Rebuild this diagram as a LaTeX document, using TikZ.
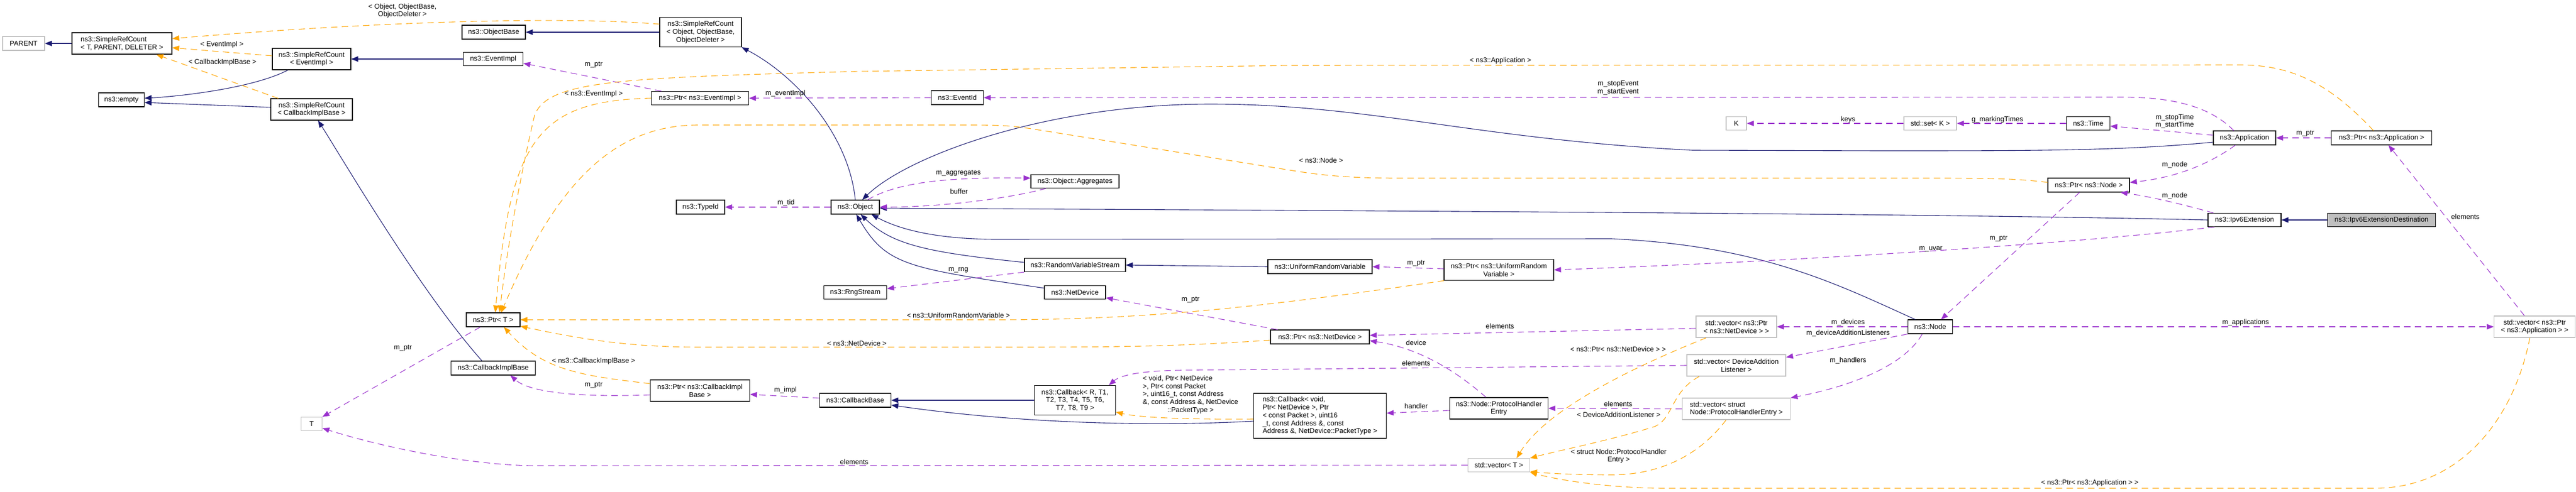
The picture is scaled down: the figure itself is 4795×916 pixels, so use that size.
\documentclass[tikz,border=0pt]{standalone}
\usepackage{fontspec}
\setmainfont{Liberation Sans}
\usetikzlibrary{arrows.meta}

\definecolor{inhblue}{HTML}{191970}
\definecolor{usepurple}{HTML}{9A32CD}
\definecolor{tplorange}{HTML}{FFA500}
\definecolor{extgray}{HTML}{BFBFBF}

\begin{document}
\begin{tikzpicture}[x=1pt, y=-1pt, font=\fontsize{13}{14.7}\selectfont,
  klass/.style={draw=black, line width=1.2pt, fill=white, inner sep=0pt, align=center, minimum height=26pt},
  extklass/.style={klass, draw=extgray},
  focus/.style={klass, fill=extgray},
  inh/.style={draw=inhblue, line width=1.1pt, -{Triangle[length=13pt,width=10pt]}},
  usg/.style={draw=usepurple, line width=1.1pt, dash pattern=on 12pt off 8pt, -{Triangle[length=13pt,width=10pt]}},
  tpl/.style={usg, draw=tplorange},
  lbl/.style={inner sep=0pt, align=center}]
  \useasboundingbox (0,0) rectangle (4795,916);

  % classes
  \node[extklass, minimum width=78pt] (parent) at (44,81) {PARENT};
  \node[klass, minimum width=186pt, minimum height=40pt, align=left] (srcT) at (227,81) {ns3::SimpleRefCount\\< T, PARENT, DELETER >};
  \node[klass, minimum width=85pt] (empty) at (226,186) {ns3::empty};
  \node[klass, minimum width=146pt, minimum height=40pt] (srcEv) at (580,110) {ns3::SimpleRefCount\\< EventImpl >};
  \node[klass, minimum width=152pt, minimum height=40pt] (srcCb) at (580,204) {ns3::SimpleRefCount\\< CallbackImplBase >};
  \node[extklass, minimum width=39pt, minimum height=25pt] (T) at (580,790) {T};
  \node[klass, minimum width=118pt] (objBase) at (919,60) {ns3::ObjectBase};
  \node[klass, minimum width=111pt, minimum height=25pt] (evImpl) at (918,110) {ns3::EventImpl};
  \node[klass, minimum width=100pt] (ptrT) at (918,596) {ns3::Ptr< T >};
  \node[klass, minimum width=157pt] (cbImpl) at (918,686) {ns3::CallbackImplBase};
  \node[klass, minimum width=152pt, minimum height=55pt] (srcObj) at (1304,60) {ns3::SimpleRefCount\\< Object, ObjectBase,\\ObjectDeleter >};
  \node[klass, minimum width=181pt, minimum height=25pt] (ptrEv) at (1303,183) {ns3::Ptr< ns3::EventImpl >};
  \node[klass, minimum width=90pt] (typeId) at (1304,386) {ns3::TypeId};
  \node[klass, minimum width=185pt, minimum height=40pt] (ptrCb) at (1303,728) {ns3::Ptr< ns3::CallbackImpl\\Base >};
  \node[klass, minimum width=90pt] (object) at (1592,386) {ns3::Object};
  \node[klass, minimum width=117pt, minimum height=25pt] (rng) at (1592,545) {ns3::RngStream};
  \node[klass, minimum width=133pt] (cbBase) at (1592,746) {ns3::CallbackBase};
  \node[klass, minimum width=97pt] (eventId) at (1782,182) {ns3::EventId};
  \node[klass, minimum width=164pt, minimum height=25pt] (aggr) at (2001,338) {ns3::Object::Aggregates};
  \node[klass, minimum width=188pt, minimum height=25pt] (rvs) at (2001,494) {ns3::RandomVariableStream};
  \node[klass, minimum width=114pt, minimum height=25pt] (netDev) at (2001,545) {ns3::NetDevice};
  \node[klass, minimum width=151pt, minimum height=55pt] (cbGen) at (2001,746) {ns3::Callback< R, T1,\\T2, T3, T4, T5, T6,\\T7, T8, T9 >};
  \node[klass, minimum width=194pt] (urv) at (2457,497) {ns3::UniformRandomVariable};
  \node[klass, minimum width=184pt] (ptrNd) at (2457,628) {ns3::Ptr< ns3::NetDevice >};
  \node[klass, minimum width=247pt, minimum height=84pt, align=left] (cbVoid) at (2457,775) {ns3::Callback< void,\\Ptr< NetDevice >, Ptr\\< const Packet >, uint16\\\_t, const Address \&, const\\Address \&, NetDevice::PacketType >};
  \node[klass, minimum width=204pt, minimum height=39pt] (ptrUrv) at (2790,503) {ns3::Ptr< ns3::UniformRandom\\Variable >};
  \node[klass, minimum width=183pt, minimum height=40pt] (phe) at (2790,761) {ns3::Node::ProtocolHandler\\Entry};
  \node[extklass, minimum width=115pt, minimum height=25pt] (vecT) at (2790,867) {std::vector< T >};
  \node[extklass, minimum width=38pt, minimum height=25pt] (K) at (3232,230) {K};
  \node[extklass, minimum width=150pt, minimum height=40pt] (vecNd) at (3232,609) {std::vector< ns3::Ptr\\< ns3::NetDevice > >};
  \node[extklass, minimum width=184pt, minimum height=40pt] (vecDal) at (3232,681) {std::vector< DeviceAddition\\Listener >};
  \node[extklass, minimum width=201pt, minimum height=40pt, align=left] (vecPhe) at (3232,762) {std::vector< struct\\Node::ProtocolHandlerEntry >};
  \node[extklass, minimum width=98pt, minimum height=25pt] (setK) at (3593,230) {std::set< K >};
  \node[klass, minimum width=83pt] (nsNode) at (3593,609) {ns3::Node};
  \node[klass, minimum width=81pt, minimum height=25pt] (time) at (3887,230) {ns3::Time};
  \node[klass, minimum width=152pt] (ptrNode) at (3888,345) {ns3::Ptr< ns3::Node >};
  \node[klass, minimum width=116pt] (app) at (4178,257) {ns3::Application};
  \node[klass, minimum width=136pt, minimum height=25pt] (ipv6) at (4178,410) {ns3::Ipv6Extension};
  \node[klass, minimum width=187pt] (ptrApp) at (4433,257) {ns3::Ptr< ns3::Application >};
  \node[focus, minimum width=201pt, minimum height=25pt] (dest) at (4433,410) {ns3::Ipv6ExtensionDestination};
  \node[extklass, minimum width=151pt, minimum height=40pt] (vecApp) at (4718,609) {std::vector< ns3::Ptr\\< ns3::Application > >};

  % inheritance
  \foreach \a/\b in {srcT/parent, evImpl/srcEv, srcObj/objBase, urv/rvs, cbGen/cbBase, dest/ipv6}
    \draw[inh] (\a.west) -- (\b.east);
  \draw[inh] ([xshift=-44pt]srcEv.south) .. controls (470,165) and (330,180) .. ([yshift=3pt]empty.east);
  \draw[inh] ([yshift=4pt]srcCb.west) -- ([yshift=-5pt]empty.east);
  \draw[inh] ([xshift=-21pt]cbImpl.north) .. controls (780,540) and (640,300) .. ([xshift=12pt]srcCb.south);
  \draw[inh] (object.north) .. controls (1580,250) and (1480,140) .. (srcObj.south east);
  \draw[inh] ([yshift=-8pt]app.west) .. controls (3950,281) and (3800,281) .. (3500,281) -- (3150,280)
    .. controls (2750,260) and (2550,194) .. (2253,194) .. controls (1950,194) and (1690,290) .. ([xshift=13pt]object.north);
  \draw[inh] (ipv6.west) .. controls (3600,398) and (2600,393) .. ([yshift=-2pt]object.east);
  \draw[inh] ([xshift=-28pt]nsNode.north) .. controls (3420,530) and (3280,458) .. (3000,445) -- (1850,446)
    .. controls (1720,445) and (1660,420) .. ([xshift=30pt]object.south);
  \draw[inh] ([yshift=5pt]rvs.west) .. controls (1720,470) and (1660,455) .. ([xshift=10pt]object.south);
  \draw[inh] ([yshift=8pt]netDev.west) .. controls (1690,500) and (1650,495) .. ([xshift=2pt]object.south);
  \draw[inh] ([yshift=-10pt]cbVoid.west) .. controls (2150,795) and (1900,790) .. ([yshift=-9pt]cbBase.east);

  % usage
  \foreach \a/\b/\txt/\at in {object.west/typeId.east/m\_tid/{1463,378}, eventId.west/ptrEv.east/m\_eventImpl/{1462,174},
      vecPhe.west/phe.east/elements/{3012,753}, setK.west/K.east/keys/{3440,223}, time.west/setK.east/g\_markingTimes/{3718,223},
      nsNode.west/vecNd.east/m\_devices/{3440,601}, nsNode.east/vecApp.west/m\_applications/{4180,601}, ptrApp.west/app.east/m\_ptr/{4291,249}}
    \draw[usg] (\a) -- (\b) node[lbl] at (\at) {\txt};
  \draw[usg] ([xshift=-72pt]ptrEv.north) -- ([yshift=-8pt]evImpl.east) node[lbl] at (1105,121) {m\_ptr};
  \draw[usg] ([xshift=-20pt]app.north) .. controls (4120,205) and (4060,181) .. (3950,181) -- (eventId.east)
    node[lbl] at (3012,164) {m\_stopEvent\\m\_startEvent};
  \draw[usg] ([xshift=23pt]object.north) .. controls (1670,340) and (1760,330) .. ([yshift=6pt]aggr.west) node[lbl] at (1784,323) {m\_aggregates};
  \draw[usg] ([xshift=-54pt]aggr.south) .. controls (1880,370) and (1750,386) .. (object.east) node[lbl] at (1785,357) {buffer};
  \draw[usg] ([xshift=-24pt]ptrT.south) -- (T.north east) node[lbl] at (750,649) {m\_ptr};
  \draw[usg] (vecT.west) -- (1000,868) .. controls (870,868) and (700,830) .. ([yshift=-8pt]T.east) node[lbl] at (1590,861) {elements};
  \draw[usg] ([yshift=-8pt]ptrCb.west) .. controls (1100,740) and (990,735) .. ([xshift=32pt]cbImpl.south) node[lbl] at (1105,718) {m\_ptr};
  \draw[usg] ([yshift=4pt]cbBase.west) -- ([yshift=-7pt]ptrCb.east) node[lbl] at (1462,727) {m\_impl};
  \draw[usg] (rvs.south west) -- ([yshift=7pt]rng.east) node[lbl] at (1784,503) {m\_rng};
  \draw[usg] ([xshift=-79pt]ptrNd.north) -- ([yshift=-10pt]netDev.east) node[lbl] at (2216,559) {m\_ptr};
  \draw[usg] ([yshift=2pt]ptrUrv.west) -- (urv.east) node[lbl] at (2636,491) {m\_ptr};
  \draw[usg] ([xshift=-56pt]ipv6.south) .. controls (3900,450) and (3400,485) .. (ptrUrv.east) node[lbl] at (3594,464) {m\_uvar};
  \draw[usg] ([yshift=-3pt]vecNd.west) -- ([yshift=3pt]ptrNd.east) node[lbl] at (2792,608) {elements};
  \draw[usg] ([xshift=-24pt]phe.north) .. controls (2720,700) and (2650,650) .. ([yshift=-7pt]ptrNd.east) node[lbl] at (2636,639) {device};
  \draw[usg] (vecDal.west) -- (2200,690) .. controls (2120,691) and (2085,700) .. ([xshift=63pt]cbGen.north) node[lbl] at (2636,677) {elements};
  \draw[usg] ([yshift=-4pt]phe.west) -- ([yshift=5pt]cbVoid.east) node[lbl] at (2636,757) {handler};
  \draw[usg] ([yshift=5pt]app.west) -- ([yshift=-5pt]time.east) node[lbl] at (4048,226) {m\_stopTime\\m\_startTime};
  \draw[usg] ([xshift=-17pt]app.south) .. controls (4120,300) and (4060,330) .. ([yshift=5pt]ptrNode.east) node[lbl] at (4048,307) {m\_node};
  \draw[usg] ([xshift=-58pt]ipv6.north) .. controls (4060,380) and (4000,366) .. ([xshift=59pt]ptrNode.south) node[lbl] at (4048,365) {m\_node};
  \draw[usg] ([xshift=-17pt]ptrNode.south) -- ([xshift=20pt]nsNode.north) node[lbl] at (3720,445) {m\_ptr};
  \draw[usg] (nsNode.south west) -- ([yshift=15pt]vecDal.east) node[lbl] at (3440,621) {m\_deviceAdditionListeners};
  \draw[usg] ([xshift=-15pt]nsNode.south) .. controls (3540,690) and (3420,725) .. (vecPhe.north east) node[lbl] at (3440,672) {m\_handlers};
  \draw[usg] ([xshift=-19pt]vecApp.north) -- ([xshift=13pt]ptrApp.south) node[lbl] at (4589,404) {elements};

  % template instances
  \draw[tpl] ([yshift=15pt]srcObj.west) .. controls (1050,30) and (700,40) .. ([yshift=9pt]srcT.east)
    node[lbl] at (749,20) {< Object, ObjectBase,\\ObjectDeleter >};
  \draw[tpl] ([yshift=6pt]srcEv.west) -- ([yshift=-8pt]srcT.east) node[lbl] at (413,83) {< EventImpl >};
  \draw[tpl] ([xshift=-62pt]srcCb.north) -- ([xshift=64pt]srcT.south) node[lbl] at (414,116) {< CallbackImplBase >};
  \draw[tpl] (ptrEv.west) .. controls (1000,188) and (950,260) .. ([xshift=4pt]ptrT.north) node[lbl] at (1105,175) {< ns3::EventImpl >};
  \draw[tpl] ([xshift=-15pt]ptrApp.north) .. controls (4340,160) and (4270,121) .. (4170,121) -- (2400,122) -- (1600,133)
    .. controls (1150,145) and (1020,150) .. (995,215) .. controls (975,300) and (945,450) .. ([xshift=12pt]ptrT.north)
    node[lbl] at (2793,113) {< ns3::Application >};
  \draw[tpl] ([yshift=5pt]ptrNode.west) .. controls (3760,333) and (3700,332) .. (3600,332) -- (2600,332)
    .. controls (2500,332) and (2450,325) .. (2400,317) -- (1920,240) .. controls (1880,234) and (1860,233) .. (1800,233) -- (1300,233)
    .. controls (1150,233) and (1040,330) .. ([xshift=15pt]ptrT.north) node[lbl] at (2459,299) {< ns3::Node >};
  \draw[tpl] ([xshift=-102pt]ptrUrv.south) .. controls (2300,580) and (2100,596) .. (1850,596) -- (ptrT.east)
    node[lbl] at (1784,588) {< ns3::UniformRandomVariable >};
  \draw[tpl] ([yshift=-6pt]ptrNd.west) .. controls (2200,645) and (2100,647) .. (1900,647) -- (1300,647)
    .. controls (1150,647) and (1050,625) .. ([yshift=-12pt]ptrT.east) node[lbl] at (1595,640) {< ns3::NetDevice >};
  \draw[tpl] ([yshift=13pt]ptrCb.west) .. controls (1080,700) and (1010,690) .. ([xshift=20pt]ptrT.south)
    node[lbl] at (1105,673) {< ns3::CallbackImplBase >};
  \draw[tpl] ([yshift=-6pt]cbVoid.west) .. controls (2200,782) and (2120,778) .. ([yshift=-22pt]cbGen.east)
    node[lbl] at (2216,736) {\begin{tabular}{@{}l@{}}< void, Ptr< NetDevice\\>, Ptr< const Packet\\>, uint16\_t, const Address\\\&, const Address \&, NetDevice\\\multicolumn{1}{@{}c@{}}{::PacketType >}\end{tabular}};
  \draw[tpl] ([xshift=-56pt]vecNd.south) .. controls (3050,680) and (2880,760) .. ([xshift=33pt]vecT.north)
    node[lbl] at (3012,651) {< ns3::Ptr< ns3::NetDevice > >};
  \draw[tpl] ([xshift=-69pt]vecDal.south) .. controls (3110,730) and (3115,780) .. (3080,795) .. controls (3000,820) and (2900,840) .. (vecT.north east)
    node[lbl] at (3013,773) {< DeviceAdditionListener >};
  \draw[tpl] ([xshift=-19pt]vecPhe.south) .. controls (3170,840) and (3100,885) .. (3000,885) .. controls (2930,885) and (2880,882) .. ([yshift=-12pt]vecT.east)
    node[lbl] at (3013,850) {< struct Node::ProtocolHandler\\Entry >};
  \draw[tpl] ([xshift=-9pt]vecApp.south) .. controls (4680,780) and (4580,910) .. (4420,910) -- (3100,910)
    .. controls (3000,910) and (2900,895) .. (vecT.south east) node[lbl] at (3890,900) {< ns3::Ptr< ns3::Application > >};
\end{tikzpicture}
\end{document}
